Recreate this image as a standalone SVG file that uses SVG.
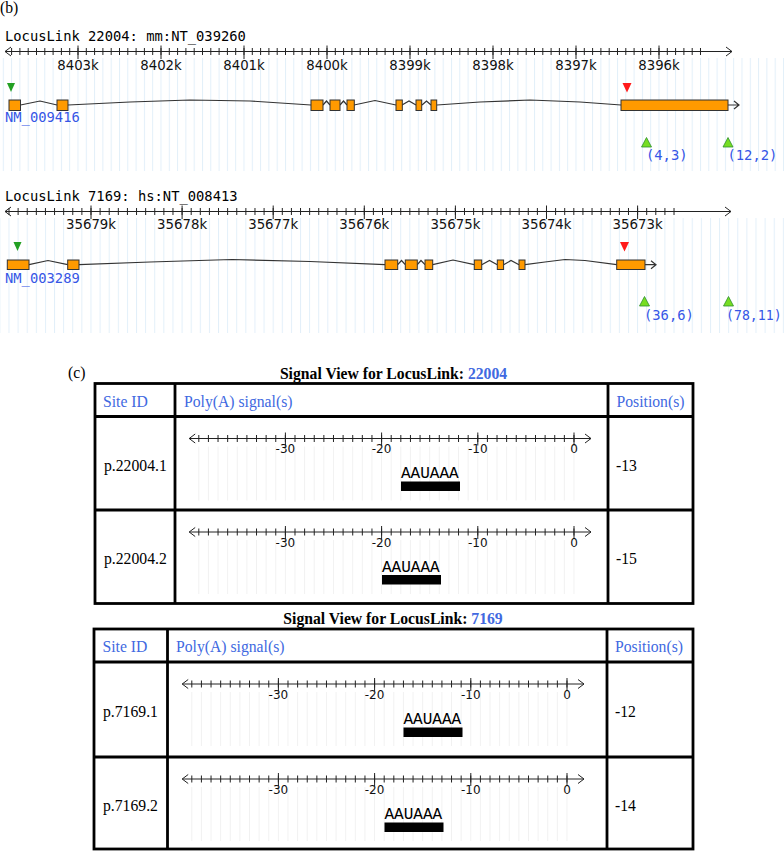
<svg xmlns="http://www.w3.org/2000/svg" width="784" height="853" viewBox="0 0 784 853">
<defs>
<style>
.mono{font-family:"DejaVu Sans Mono",monospace;font-size:13.8px;fill:#000}
.blue{fill:#3656e6}
.lbl{font-family:"DejaVu Sans",Verdana,sans-serif;font-size:13.3px;fill:#111;text-anchor:middle}
.ser{font-family:"Liberation Serif","Times New Roman",serif;font-size:15.7px;fill:#000}
.hd{fill:#4169e1}
.ttl{font-weight:bold;text-anchor:middle}
.rl{fill:none;stroke:#222;stroke-width:1}
.exon{fill:#ff9a00;stroke:#333;stroke-width:1}
.intr{fill:none;stroke:#333;stroke-width:1.2}
.tbl{fill:none;stroke:#000;stroke-width:2.8}
.tl{font-family:"DejaVu Sans",sans-serif;font-size:12px;fill:#111;text-anchor:middle}
.sig{font-family:"Liberation Mono","DejaVu Sans Mono",monospace;font-size:16px;fill:#000}
.gdn{fill:#23a023}
.red{fill:#ff1a1a}
.gup{fill:#77dd22;stroke:#2f8f2f;stroke-width:0.8}
</style>
<pattern id="grid1" patternUnits="userSpaceOnUse" x="11.1" y="0" width="8.3" height="10"><rect width="1" height="10" fill="#e2eff9"/></pattern>
<pattern id="grid2" patternUnits="userSpaceOnUse" x="8.5" y="0" width="9.11" height="10"><rect width="1" height="10" fill="#e2eff9"/></pattern>
<pattern id="gridT" patternUnits="userSpaceOnUse" x="-375.7" y="0" width="9.62" height="10"><rect width="1" height="10" fill="#f1f1f1"/></pattern>
<g id="truler">
<rect x="-376" y="8" width="377" height="54" fill="url(#gridT)"/>
<path class="rl" d="M-384.8 0H17M-378.8-4.5L-384.8 0L-378.8 4.5M11-4.5L17 0L11 4.5"/>
<path class="rl" d="M-375.2-3.5v7m9.62-7v7m9.62-7v7m9.62-7v7m9.62-7v7m9.62-7v7m9.62-7v7m9.62-7v7m9.62-7v7m9.62-7v7m9.62-7v7m9.62-7v7m9.62-7v7m9.62-7v7m9.62-7v7m9.62-7v7m9.62-7v7m9.62-7v7m9.62-7v7m9.62-7v7m9.62-7v7m9.62-7v7m9.62-7v7m9.62-7v7m9.62-7v7m9.62-7v7m9.62-7v7m9.62-7v7m9.62-7v7m9.62-7v7m9.62-7v7m9.62-7v7m9.62-7v7m9.62-7v7m9.62-7v7m9.62-7v7m9.62-7v7m9.62-7v7m9.62-7v7m9.62-7v7"/>
<path class="rl" d="M-288.6-6v13M-192.4-6v13M-96.2-6v13M0-6v13"/>
</g>
</defs>
<rect width="784" height="853" fill="#fff"/>

<g id="panel-b">
<text class="ser" x="0" y="12.5">(b)</text>
</g>

<g id="track-22004">
<rect x="0" y="58" width="784" height="113" fill="url(#grid1)"/>
<text class="mono" x="5" y="41">LocusLink 22004: mm:NT_039260</text>
<path class="rl" d="M5 51.5H732M11 47L5 51.5L11 56M726 47L732 51.5L726 56"/>
<path class="rl" d="M11.6 48v7m8.3-7v7m8.3-7v7m8.3-7v7m8.3-7v7m8.3-7v7m8.3-7v7m8.3-7v7m8.3-7v7m8.3-7v7m8.3-7v7m8.3-7v7m8.3-7v7m8.3-7v7m8.3-7v7m8.3-7v7m8.3-7v7m8.3-7v7m8.3-7v7m8.3-7v7m8.3-7v7m8.3-7v7m8.3-7v7m8.3-7v7m8.3-7v7m8.3-7v7m8.3-7v7m8.3-7v7m8.3-7v7m8.3-7v7m8.3-7v7m8.3-7v7m8.3-7v7m8.3-7v7m8.3-7v7m8.3-7v7m8.3-7v7m8.3-7v7m8.3-7v7m8.3-7v7m8.3-7v7m8.3-7v7m8.3-7v7m8.3-7v7m8.3-7v7m8.3-7v7m8.3-7v7m8.3-7v7m8.3-7v7m8.3-7v7m8.3-7v7m8.3-7v7m8.3-7v7m8.3-7v7m8.3-7v7m8.3-7v7m8.3-7v7m8.3-7v7m8.3-7v7m8.3-7v7m8.3-7v7m8.3-7v7m8.3-7v7m8.3-7v7m8.3-7v7m8.3-7v7m8.3-7v7m8.3-7v7m8.3-7v7m8.3-7v7m8.3-7v7m8.3-7v7m8.3-7v7m8.3-7v7m8.3-7v7m8.3-7v7m8.3-7v7m8.3-7v7m8.3-7v7m8.3-7v7m8.3-7v7m8.3-7v7m8.3-7v7m8.3-7v7"/>
<path class="rl" d="M78 45.5v13.5M161 45.5v13.5M244 45.5v13.5M327 45.5v13.5M410 45.5v13.5M493 45.5v13.5M576 45.5v13.5M659 45.5v13.5"/>
<text class="lbl" x="78" y="70">8403k</text>
<text class="lbl" x="161" y="70">8402k</text>
<text class="lbl" x="244" y="70">8401k</text>
<text class="lbl" x="327" y="70">8400k</text>
<text class="lbl" x="410" y="70">8399k</text>
<text class="lbl" x="493" y="70">8398k</text>
<text class="lbl" x="576" y="70">8397k</text>
<text class="lbl" x="659" y="70">8396k</text>
<polygon class="gdn" points="7,83 15,83 11,92"/>
<polygon class="red" points="622.5,83 631.5,83 627,92.5"/>
<g id="introns-22004">
<polyline class="intr" points="20.5,105 40,101 57,105"/>
<polyline class="intr" points="68,105 130,102 190,100 250,101 311,105"/>
<polyline class="intr" points="323,105 326.5,101 330,105"/>
<polyline class="intr" points="340,105 343.5,101 347,105"/>
<polyline class="intr" points="354,105 375,100.5 396,105"/>
<polyline class="intr" points="402,105 409,101 416,105"/>
<polyline class="intr" points="422,105 426.5,101 431,105"/>
<polyline class="intr" points="437,105 480,102 530,100 580,102 621,105"/>
<path class="intr" d="M728 105H739M734 101L739 105L734 109"/>
</g>
<rect class="exon" x="9" y="100" width="11.5" height="10.5"/>
<rect class="exon" x="57" y="100" width="11" height="10.5"/>
<rect class="exon" x="311" y="100" width="12" height="10.5"/>
<rect class="exon" x="330" y="100" width="10" height="10.5"/>
<rect class="exon" x="347" y="100" width="7.3" height="10.5"/>
<rect class="exon" x="396" y="100" width="6.3" height="10.5"/>
<rect class="exon" x="416" y="100" width="5.7" height="10.5"/>
<rect class="exon" x="431" y="100" width="5.7" height="10.5"/>
<rect class="exon" x="621" y="100" width="107" height="10.5"/>
<text class="mono blue" x="5" y="122">NM_009416</text>
<polygon class="gup" points="641.5,147 651.5,147 646.5,137.5"/>
<polygon class="gup" points="723,147 733,147 728,137.5"/>
<text class="mono blue" x="646" y="160">(4,3)</text>
<text class="mono blue" x="727.5" y="160">(12,2)</text>
</g>

<g id="track-7169">
<rect x="0" y="218" width="784" height="115" fill="url(#grid2)"/>
<text class="mono" x="5" y="201">LocusLink 7169: hs:NT_008413</text>
<path class="rl" d="M5 211.5H731M11 207L5 211.5L11 216M725 207L731 211.5L725 216"/>
<path class="rl" d="M9 208v7m9.11-7v7m9.11-7v7m9.11-7v7m9.11-7v7m9.11-7v7m9.11-7v7m9.11-7v7m9.11-7v7m9.11-7v7m9.11-7v7m9.11-7v7m9.11-7v7m9.11-7v7m9.11-7v7m9.11-7v7m9.11-7v7m9.11-7v7m9.11-7v7m9.11-7v7m9.11-7v7m9.11-7v7m9.11-7v7m9.11-7v7m9.11-7v7m9.11-7v7m9.11-7v7m9.11-7v7m9.11-7v7m9.11-7v7m9.11-7v7m9.11-7v7m9.11-7v7m9.11-7v7m9.11-7v7m9.11-7v7m9.11-7v7m9.11-7v7m9.11-7v7m9.11-7v7m9.11-7v7m9.11-7v7m9.11-7v7m9.11-7v7m9.11-7v7m9.11-7v7m9.11-7v7m9.11-7v7m9.11-7v7m9.11-7v7m9.11-7v7m9.11-7v7m9.11-7v7m9.11-7v7m9.11-7v7m9.11-7v7m9.11-7v7m9.11-7v7m9.11-7v7m9.11-7v7m9.11-7v7m9.11-7v7m9.11-7v7m9.11-7v7m9.11-7v7m9.11-7v7m9.11-7v7m9.11-7v7m9.11-7v7m9.11-7v7m9.11-7v7m9.11-7v7m9.11-7v7m9.11-7v7"/>
<path class="rl" d="M91 205.5v13.5M182.1 205.5v13.5M273.2 205.5v13.5M364.3 205.5v13.5M455.4 205.5v13.5M546.5 205.5v13.5M637.6 205.5v13.5"/>
<text class="lbl" x="91" y="229">35679k</text>
<text class="lbl" x="182.1" y="229">35678k</text>
<text class="lbl" x="273.2" y="229">35677k</text>
<text class="lbl" x="364.3" y="229">35676k</text>
<text class="lbl" x="455.4" y="229">35675k</text>
<text class="lbl" x="546.5" y="229">35674k</text>
<text class="lbl" x="637.6" y="229">35673k</text>
<polygon class="gdn" points="13.5,242 21.5,242 17.5,251"/>
<polygon class="red" points="620,242 629,242 624.5,251.5"/>
<g id="introns-7169">
<polyline class="intr" points="29,264.7 48,260.5 67.7,264.7"/>
<polyline class="intr" points="79,264.7 150,262 232,259.5 310,261.5 385,264.7"/>
<polyline class="intr" points="397.7,264.7 401.5,260.5 405.3,264.7"/>
<polyline class="intr" points="417.3,264.7 421,260.5 425,264.7"/>
<polyline class="intr" points="432.7,264.7 453,260 474.3,264.7"/>
<polyline class="intr" points="481.7,264.7 489.5,260.5 497.3,264.7"/>
<polyline class="intr" points="503.6,264.7 511,260.5 519,264.7"/>
<polyline class="intr" points="525,264.7 545,262 565,259.5 585,260.5 616.7,264.7"/>
<path class="intr" d="M645 264.7H656M651 260.7L656 264.7L651 268.7"/>
</g>
<rect class="exon" x="7.3" y="260" width="21.7" height="9.5"/>
<rect class="exon" x="67.7" y="260" width="11.3" height="9.5"/>
<rect class="exon" x="385" y="260" width="12.7" height="9.5"/>
<rect class="exon" x="405.3" y="260" width="12" height="9.5"/>
<rect class="exon" x="425" y="260" width="7.7" height="9.5"/>
<rect class="exon" x="474.3" y="260" width="7.4" height="9.5"/>
<rect class="exon" x="497.3" y="260" width="6.3" height="9.5"/>
<rect class="exon" x="519" y="260" width="6" height="9.5"/>
<rect class="exon" x="616.7" y="260" width="28.3" height="9.5"/>
<text class="mono blue" x="5" y="283">NM_003289</text>
<polygon class="gup" points="639.5,306 649.5,306 644.5,296.5"/>
<polygon class="gup" points="723.5,306 733.5,306 728.5,296.5"/>
<text class="mono blue" x="644" y="319.5">(36,6)</text>
<text class="mono blue" x="726" y="319.5" style="font-size:13.2px">(78,11)</text>
</g>

<g id="panel-c">
<text class="ser" x="68" y="378">(c)</text>
</g>

<g id="table-22004">
<text class="ser ttl" x="393.5" y="379">Signal View for LocusLink: <tspan class="hd">22004</tspan></text>
<rect class="tbl" x="95" y="383.5" width="598" height="220"/>
<path class="tbl" d="M95 416.5H693M95 510H693M175 383.5V603.5M608 383.5V603.5"/>
<text class="ser hd" x="103" y="407">Site ID</text>
<text class="ser hd" x="184" y="407">Poly(A) signal(s)</text>
<text class="ser hd" x="616.5" y="407">Position(s)</text>
<text class="ser" x="104" y="470.5">p.22004.1</text>
<use href="#truler" transform="translate(574 438.5)"/>
<text class="tl" x="285.4" y="453">-30</text>
<text class="tl" x="381.6" y="453">-20</text>
<text class="tl" x="477.8" y="453">-10</text>
<text class="tl" x="574" y="453">0</text>
<text class="sig" x="401" y="478">AAUAAA</text>
<rect x="401" y="481.5" width="59" height="9.5" fill="#000"/>
<text class="ser" x="616" y="470.5">-13</text>
<text class="ser" x="104" y="564">p.22004.2</text>
<use href="#truler" transform="translate(574 532)"/>
<text class="tl" x="285.4" y="546.5">-30</text>
<text class="tl" x="381.6" y="546.5">-20</text>
<text class="tl" x="477.8" y="546.5">-10</text>
<text class="tl" x="574" y="546.5">0</text>
<text class="sig" x="382" y="571.5">AAUAAA</text>
<rect x="382" y="575" width="59" height="9.5" fill="#000"/>
<text class="ser" x="616" y="564">-15</text>
</g>

<g id="table-7169">
<text class="ser ttl" x="393" y="624">Signal View for LocusLink: <tspan class="hd">7169</tspan></text>
<rect class="tbl" x="94" y="629" width="599" height="220"/>
<path class="tbl" d="M94 662H693M94 757H693M167.5 629V849M607 629V849"/>
<text class="ser hd" x="102.5" y="652">Site ID</text>
<text class="ser hd" x="176" y="652">Poly(A) signal(s)</text>
<text class="ser hd" x="615" y="652">Position(s)</text>
<text class="ser" x="103" y="717">p.7169.1</text>
<use href="#truler" transform="translate(567 684)"/>
<text class="tl" x="278.4" y="698.5">-30</text>
<text class="tl" x="374.6" y="698.5">-20</text>
<text class="tl" x="470.8" y="698.5">-10</text>
<text class="tl" x="567" y="698.5">0</text>
<text class="sig" x="403.5" y="723.5">AAUAAA</text>
<rect x="403.5" y="727.5" width="59" height="9.5" fill="#000"/>
<text class="ser" x="615" y="717">-12</text>
<text class="ser" x="103" y="811">p.7169.2</text>
<use href="#truler" transform="translate(567 779)"/>
<text class="tl" x="278.4" y="793.5">-30</text>
<text class="tl" x="374.6" y="793.5">-20</text>
<text class="tl" x="470.8" y="793.5">-10</text>
<text class="tl" x="567" y="793.5">0</text>
<text class="sig" x="384.5" y="818.5">AAUAAA</text>
<rect x="384.5" y="822.5" width="59" height="9.5" fill="#000"/>
<text class="ser" x="615" y="811">-14</text>
</g>
</svg>
